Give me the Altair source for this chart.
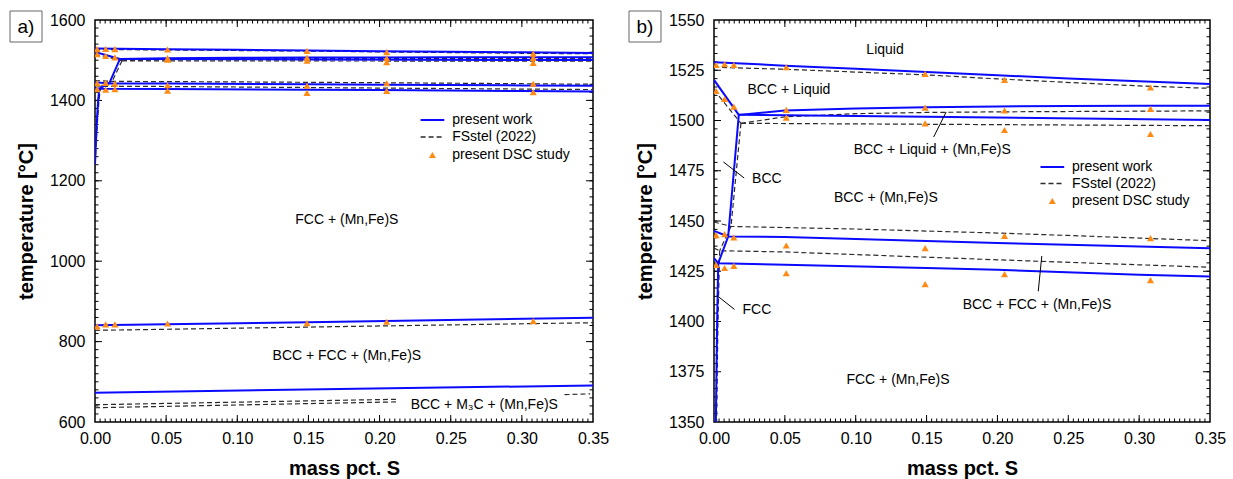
import altair as alt
import pandas as pd
import numpy as np

# ---------------- data ----------------
X_TICKS = [0.0, 0.05, 0.10, 0.15, 0.20, 0.25, 0.30, 0.35]
YA_TICKS = [600, 800, 1000, 1200, 1400, 1600]
YB_TICKS = [1350, 1375, 1400, 1425, 1450, 1475, 1500, 1525, 1550]

# present work (blue, solid)
pw_liq_x = [0.0, 0.05, 0.10, 0.15, 0.20, 0.25, 0.30, 0.35]
pw_liq_t = [1529.0, 1527.3, 1525.7, 1524.1, 1522.5, 1520.9, 1519.5, 1518.2]
pw_sol_x = [0.0, 0.0175]
pw_sol_t = [1520.2, 1502.8]
pw_up3_x = [0.0175, 0.05, 0.10, 0.15, 0.20, 0.25, 0.30, 0.35]
pw_up3_t = [1502.8, 1505.0, 1506.0, 1506.6, 1507.0, 1507.2, 1507.3, 1507.4]
pw_lo3_x = [0.0175, 0.15, 0.35]
pw_lo3_t = [1502.8, 1501.9, 1500.3]
pw_bccs_x = [0.0175, 0.010, 0.003]
pw_bccs_t = [1502.8, 1442.3, 1429.0]
pw_upbf_x = [0.0, 0.010, 0.05, 0.15, 0.20, 0.30, 0.35]
pw_upbf_t = [1445.0, 1442.3, 1442.0, 1440.1, 1439.0, 1437.3, 1436.5]
pw_lobf_x = [0.0, 0.003, 0.05, 0.15, 0.20, 0.30, 0.35]
pw_lobf_t = [1431.5, 1429.0, 1428.2, 1426.6, 1425.7, 1423.2, 1422.4]
pw_fccs_x = [0.003, 0.0022, 0.0013, 0.0005, 0.0]
pw_fccs_t = [1429.0, 1400.0, 1350.0, 1290.0, 1240.0]
pw_a3_x = [0.0, 0.15, 0.35]
pw_a3_t = [840.5, 848.0, 859.5]
pw_a1_x = [0.0, 0.35]
pw_a1_t = [673.0, 691.0]

# FSstel (2022) (black, dashed)
fs_liq_x = [0.0, 0.05, 0.15, 0.20, 0.30, 0.35]
fs_liq_t = [1526.5, 1525.5, 1522.7, 1520.7, 1517.2, 1516.0]
fs_sol_x = [0.0, 0.019]
fs_sol_t = [1515.2, 1498.6]
fs_up3_x = [0.019, 0.05, 0.10, 0.15, 0.20, 0.35]
fs_up3_t = [1498.6, 1501.8, 1503.4, 1504.0, 1504.3, 1504.8]
fs_lo3_x = [0.019, 0.35]
fs_lo3_t = [1498.6, 1497.4]
fs_bccs_x = [0.019, 0.012, 0.004]
fs_bccs_t = [1498.6, 1447.3, 1435.2]
fs_upbf_x = [0.0, 0.012, 0.10, 0.15, 0.20, 0.25, 0.30, 0.35]
fs_upbf_t = [1449.5, 1447.3, 1446.0, 1445.0, 1444.0, 1442.8, 1441.5, 1440.2]
fs_lobf_x = [0.0, 0.004, 0.05, 0.15, 0.20, 0.30, 0.35]
fs_lobf_t = [1436.5, 1435.2, 1434.6, 1432.0, 1430.7, 1428.2, 1427.0]
fs_fccs_x = [0.004, 0.0028, 0.0018, 0.0008, 0.0]
fs_fccs_t = [1435.2, 1400.0, 1350.0, 1290.0, 1230.0]
fs_a3_x = [0.0, 0.35]
fs_a3_t = [828.0, 847.0]
fs_a1u_x = [0.0, 0.212]
fs_a1u_t = [643.0, 656.5]
fs_a1l_x = [0.0, 0.212]
fs_a1l_t = [635.5, 650.0]
fs_a1r_x = [0.330, 0.348]
fs_a1r_t = [668.0, 670.0]

# present DSC study (orange triangles)
dsc_x = [0.0015] * 5 + [0.0075] * 5 + [0.014] * 5 + [0.051] * 6 + [0.149] * 6 + [0.205] * 6 + [0.308] * 6
dsc_t = [1527.6, 1514.7, 1443.0, 1428.2, 838.0,
         1528.0, 1510.7, 1443.5, 1426.6, 843.0,
         1527.6, 1506.9, 1441.8, 1427.7, 843.0,
         1526.5, 1505.3, 1501.4, 1437.8, 1424.0, 845.0,
         1523.2, 1506.4, 1498.6, 1436.5, 1418.6, 846.0,
         1520.2, 1505.0, 1495.3, 1442.6, 1423.6, 849.5,
         1516.5, 1505.8, 1493.3, 1441.5, 1420.6, 851.0]

# region labels
a_lab = ["FCC + (Mn,Fe)S", "BCC + FCC + (Mn,Fe)S", "BCC + M\u2083C + (Mn,Fe)S"]
a_lab_x = [0.177, 0.177, 0.2736]
a_lab_t = [1102.0, 764.0, 641.6]
b_lab = ["Liquid", "BCC + Liquid", "BCC + Liquid + (Mn,Fe)S", "BCC", "BCC + (Mn,Fe)S",
         "FCC", "BCC + FCC + (Mn,Fe)S", "FCC + (Mn,Fe)S"]
b_lab_x = [0.1207, 0.0529, 0.154, 0.0373, 0.1213, 0.0303, 0.2279, 0.1298]
b_lab_t = [1535.0, 1515.2, 1485.2, 1471.0, 1461.4, 1405.6, 1408.4, 1371.0]
# leader lines (panel b)
b_lead = ["BCC", "FCC", "3ph", "bf"]
b_lead_x1 = [0.0066, 0.0019, 0.1638, 0.2313]
b_lead_t1 = [1479.4, 1413.0, 1504.2, 1432.6]
b_lead_x2 = [0.0213, 0.0145, 0.1550, 0.2288]
b_lead_t2 = [1471.4, 1406.0, 1491.8, 1415.0]

LEGEND = ["present work", "FSstel (2022)", "present DSC study"]

# ---------------- styling ----------------
FONT = "Liberation Sans"
BLUE = "#0a0aff"
DASH = "#2a2a2a"
ORANGE = "#ff8a14"


def build_lines(spec, source):
    rows = []
    for name, xs, ts in spec:
        for i, (x, t) in enumerate(zip(xs, ts)):
            rows.append({"line": name, "source": source, "x": x, "T": t, "ord": i})
    return rows


pw_df = pd.DataFrame(build_lines([
    ("liq", pw_liq_x, pw_liq_t), ("sol", pw_sol_x, pw_sol_t), ("up3", pw_up3_x, pw_up3_t),
    ("lo3", pw_lo3_x, pw_lo3_t), ("bccs", pw_bccs_x, pw_bccs_t), ("upbf", pw_upbf_x, pw_upbf_t),
    ("lobf", pw_lobf_x, pw_lobf_t), ("fccs", pw_fccs_x, pw_fccs_t), ("a3", pw_a3_x, pw_a3_t),
    ("a1", pw_a1_x, pw_a1_t)], "pw"))
fs_df = pd.DataFrame(build_lines([
    ("liq", fs_liq_x, fs_liq_t), ("sol", fs_sol_x, fs_sol_t), ("up3", fs_up3_x, fs_up3_t),
    ("lo3", fs_lo3_x, fs_lo3_t), ("bccs", fs_bccs_x, fs_bccs_t), ("upbf", fs_upbf_x, fs_upbf_t),
    ("lobf", fs_lobf_x, fs_lobf_t), ("fccs", fs_fccs_x, fs_fccs_t), ("a3", fs_a3_x, fs_a3_t),
    ("a1u", fs_a1u_x, fs_a1u_t), ("a1l", fs_a1l_x, fs_a1l_t), ("a1r", fs_a1r_x, fs_a1r_t)], "fs"))
dsc_df = pd.DataFrame({"x": dsc_x, "T": dsc_t})


def make_panel(tag, ydom, yticks, ymin_n, xmin_n, W, H, labels, leaders, leg):
    xsc = alt.Scale(domain=[0, 0.35], nice=False, zero=False)
    ysc = alt.Scale(domain=ydom, nice=False, zero=False)
    xax = alt.Axis(values=X_TICKS, format=".2f", title="mass pct. S", ticks=False, domain=False,
                   grid=False, labelFlush=False, labelOverlap=False, labelPadding=8, titlePadding=12)
    yax = alt.Axis(values=yticks, format="d", title="temperature [\u00b0C]", ticks=False, domain=False,
                   grid=False, labelOverlap=False, labelPadding=10, titlePadding=13)
    X = alt.X("x:Q", scale=xsc, axis=xax)
    Y = alt.Y("T:Q", scale=ysc, axis=yax)

    layers = []
    # inward ticks on all four sides
    xmaj = X_TICKS[1:-1]
    xmin = [v for v in np.linspace(0, 0.35, 7 * xmin_n + 1)[1:-1]]
    ymaj = yticks[1:-1]
    nseg = (len(yticks) - 1) * ymin_n
    ymin = [v for v in np.linspace(ydom[0], ydom[1], nseg + 1)[1:-1]]
    for vals, ln in ((xmaj, 7), (xmin, 3.5)):
        d = alt.Chart(pd.DataFrame({"x": vals}))
        layers.append(d.mark_rule(color="black", strokeWidth=1).encode(x=X, y=alt.value(H), y2=alt.value(H - ln)))
        layers.append(d.mark_rule(color="black", strokeWidth=1).encode(x=X, y=alt.value(0), y2=alt.value(ln)))
    for vals, ln in ((ymaj, 7), (ymin, 3.5)):
        d = alt.Chart(pd.DataFrame({"T": vals}))
        layers.append(d.mark_rule(color="black", strokeWidth=1).encode(y=Y, x=alt.value(0), x2=alt.value(ln)))
        layers.append(d.mark_rule(color="black", strokeWidth=1).encode(y=Y, x=alt.value(W), x2=alt.value(W - ln)))

    layers.append(alt.Chart(fs_df).mark_line(color=DASH, strokeWidth=1.2, strokeDash=[5, 3], clip=True)
                  .encode(x=X, y=Y, detail="line:N", order="ord:Q"))
    layers.append(alt.Chart(pw_df).mark_line(color=BLUE, strokeWidth=2, clip=True)
                  .encode(x=X, y=Y, detail="line:N", order="ord:Q"))
    layers.append(alt.Chart(dsc_df).mark_point(shape="triangle-up", filled=True, color=ORANGE,
                                               size=50, opacity=1, clip=True).encode(x=X, y=Y))
    lab_names, lab_x, lab_t = labels
    layers.append(alt.Chart(pd.DataFrame({"lab": lab_names, "x": lab_x, "T": lab_t}))
                  .mark_text(fontSize=14, font=FONT, color="black", align="center", baseline="middle")
                  .encode(x=X, y=Y, text="lab:N"))
    if leaders is not None:
        n, x1, t1, x2, t2 = leaders
        ld = pd.DataFrame({"id": n * 2, "x": x1 + x2, "T": t1 + t2, "ord": [0] * len(n) + [1] * len(n)})
        layers.append(alt.Chart(ld).mark_line(color="black", strokeWidth=1)
                      .encode(x=X, y=Y, detail="id:N", order="ord:Q"))

    # legend (manual)
    lx0, lx1, tx, trx, rows = leg
    one = alt.Chart(pd.DataFrame({"k": [0]}))
    layers.append(one.mark_rule(color=BLUE, strokeWidth=2).encode(x=alt.value(lx0), x2=alt.value(lx1), y=alt.value(rows[0])))
    layers.append(one.mark_rule(color=DASH, strokeWidth=1.3, strokeDash=[5, 3]).encode(x=alt.value(lx0), x2=alt.value(lx1), y=alt.value(rows[1])))
    layers.append(one.mark_point(shape="triangle-up", filled=True, color=ORANGE, size=50, opacity=1)
                  .encode(x=alt.value(trx), y=alt.value(rows[2])))
    for i, txt in enumerate(LEGEND):
        layers.append(one.mark_text(text=txt, fontSize=14, font=FONT, color="black", align="left", baseline="middle")
                      .encode(x=alt.value(tx), y=alt.value(rows[i])))

    # panel tag box
    layers.append(one.mark_rect(fill="white", stroke="#666666", strokeWidth=1)
                  .encode(x=alt.value(-85), x2=alt.value(-53), y=alt.value(-9), y2=alt.value(22)))
    layers.append(one.mark_text(text=tag, fontSize=19, font=FONT, color="black", align="center", baseline="middle")
                  .encode(x=alt.value(-69), y=alt.value(7)))

    return alt.layer(*layers).properties(width=W, height=H)


pa = make_panel("a)", [600, 1600], YA_TICKS, 10, 14, 498, 402,
                (a_lab, a_lab_x, a_lab_t), None,
                (325.6, 349.3, 357.2, 337.4, [100, 117, 135]))
pb = make_panel("b)", [1350, 1550], YB_TICKS, 6, 14, 496, 402,
                (b_lab, b_lab_x, b_lab_t),
                (b_lead, b_lead_x1, b_lead_t1, b_lead_x2, b_lead_t2),
                (326.5, 350.2, 358.0, 338.3, [147, 163.5, 181]))

chart = (alt.hconcat(pa, pb, spacing=17)
         .properties(padding={"left": 8, "top": 9, "right": 5, "bottom": 2}, background="white")
         .configure_view(stroke="black", strokeWidth=1.5)
         .configure_axis(labelFont=FONT, titleFont=FONT, labelFontSize=16, titleFontSize=20,
                         titleFontWeight="bold", labelColor="black", titleColor="black")
         .configure_text(font=FONT))

chart.save("out.html", embed_options={"renderer": "svg", "actions": False})
